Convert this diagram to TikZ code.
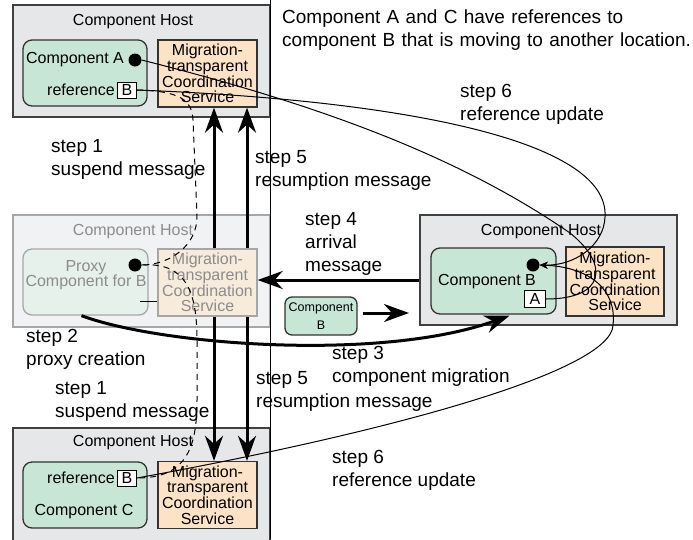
\documentclass[tikz,border=0pt]{standalone}
\usepackage{fontspec}
\setmainfont{Liberation Sans}
\usetikzlibrary{arrows.meta}
\definecolor{hostgray}{RGB}{230,231,232}
\definecolor{compgreen}{RGB}{200,230,213}
\definecolor{mtcsorange}{RGB}{253,227,197}
\definecolor{hostfaded}{RGB}{241,242,243}
\definecolor{compfaded}{RGB}{230,241,236}
\definecolor{mtcsfaded}{RGB}{247,235,220}
\definecolor{fadedtext}{RGB}{140,140,140}
\newcommand{\boxfont}{\fontsize{16}{15.7}\selectfont}
\newcommand{\stepfont}{\fontsize{19}{23}\selectfont}
\newcommand{\smallfont}{\fontsize{12.5}{18}\selectfont}
\tikzset{
  host/.style={draw=black!75, fill=hostgray, line width=1.3pt, minimum width=257pt, minimum height=112pt},
  comp/.style={draw=black!80, fill=compgreen, rounded corners=9pt, line width=1.3pt, minimum width=124pt, minimum height=66pt},
  mtcs/.style={draw=black!80, fill=mtcsorange, line width=1.3pt, minimum width=99pt, minimum height=67pt,
    align=center, inner sep=0pt, font=\boxfont},
  faded/.style={draw=black!35, text=fadedtext},
  refbox/.style={draw, fill=white, line width=1pt, minimum width=19pt, minimum height=16pt, inner sep=0pt, font=\boxfont},
  dot/.style={circle, fill=black, minimum size=13pt, inner sep=0pt},
  txt/.style={inner sep=0pt, font=\boxfont},
  steplabel/.style={anchor=west, align=left, inner sep=0pt, font=\stepfont},
  bigarrow/.style={line width=3pt, -{Stealth[length=25pt,width=18pt,inset=8pt]}},
  refline/.style={line width=1pt},
  refarrow/.style={line width=1pt, -{Stealth[length=8pt,width=7pt]}},
  oldref/.style={line width=1pt, dash pattern=on 6pt off 5pt},
}
\begin{document}
\begin{tikzpicture}[x=1pt, y=-1pt]
\useasboundingbox (0,0) rectangle (693,539);

% host of component A
\node[host] (hostA) at (141.5,61) {};
\node[txt] at (133,22) {Component Host};
\node[comp] (compA) at (85,73) {};
\node[txt] at (75,60) {Component A};
\node[dot] (dotA) at (135,60) {};
\node[txt] at (81,90) {reference};
\node[refbox] (refA) at (127,90) {B};
\node[mtcs] (mtcsA) at (207.5,73.5) {Migration-\\transparent\\Coordination\\Service};

% old host of component B, now the proxy
\node[host, fill=hostfaded, faded] (hostM) at (141.5,271) {};
\node[txt, text=fadedtext] at (133,232) {Component Host};
\node[comp, fill=compfaded, faded, minimum width=125pt] (proxy) at (85.5,282) {};
\node[txt, text=fadedtext, align=center] at (86,275) {Proxy\\Component for B};
\node[dot] (dotP) at (135,265) {};
\node[mtcs, fill=mtcsfaded, faded] (mtcsM) at (207.5,282.5) {Migration-\\transparent\\Coordination\\Service};
\draw[line width=1pt] (140,301) -- (mtcsM.west |- 0,301);

% host of component C
\node[host, minimum height=115pt] (hostC) at (141.5,485.5) {};
\node[txt] at (133,443) {Component Host};
\node[comp] (compC) at (85,495) {};
\node[txt] at (81,478) {reference};
\node[refbox] (refC) at (127,478) {B};
\node[txt] at (84,512) {Component C};
\node[mtcs] (mtcsC) at (207.5,495) {Migration-\\transparent\\Coordination\\Service};

% new host of component B
\node[host, minimum height=110pt] (hostB) at (548.5,270) {};
\node[txt] at (541,232) {Component Host};
\node[comp, minimum width=125pt] (compB) at (493.5,281) {};
\node[txt] at (487,282) {Component B};
\node[dot] (dotB) at (533,265) {};
\node[refbox, minimum width=21pt, minimum height=17pt] (refB) at (535,299) {A};
\node[mtcs, minimum width=98pt, minimum height=69pt] (mtcsB) at (615,281.5) {Migration-\\transparent\\Coordination\\Service};

% component B on the move
\node[comp, minimum width=72pt, minimum height=38pt, rounded corners=7pt, align=center,
  font=\smallfont, inner sep=0pt] (moving) at (321,316) {Component\\B};
\coordinate (movingEnd) at (409,313);

\draw[line width=1pt] (270,0) -- (270,539);

% messages
\draw[bigarrow] ([xshift=6.5pt]mtcsM.north) -- ([xshift=6.5pt]mtcsA.south);
\draw[bigarrow] ([xshift=39.5pt]mtcsM.north) -- ([xshift=39.5pt]mtcsA.south);
\draw[bigarrow] ([xshift=6.5pt]mtcsM.south) -- ([xshift=6.5pt]mtcsC.north);
\draw[bigarrow] ([xshift=39.5pt]mtcsM.south) -- ([xshift=39.5pt]mtcsC.north);
\draw[bigarrow] (hostB.west |- 0,280) -- (mtcsM.east |- 0,280);
\draw[bigarrow] ([xshift=5pt]moving.east |- 0,313) -- (movingEnd);
\draw[bigarrow] ([xshift=-4pt]proxy.south) .. controls (160,345) and (380,362) .. ([xshift=16pt,yshift=-1pt]compB.south);

% references through the proxy
\draw[oldref] (refA.east) .. controls (180,91) and (192,100) .. (193,120) -- (197,215)
  .. controls (198,245) and (170,265) .. (dotP.east);
\draw[oldref] (dotP.east) .. controls (185,262) and (197,290) .. (197,340) -- (197,400)
  .. controls (197,450) and (185,478) .. (refC.east);

% updated references
\draw[refarrow] (refA.east) .. controls (400,100) and (610,140) .. (605,217)
  .. controls (604,245) and (575,266) .. (dotB.east);
\draw[refarrow] (refC.east) .. controls (400,430) and (612,370) .. (613,325)
  .. controls (617,290) and (590,267) .. (dotB.east);
\draw[refline] (refB.east) .. controls (605,299) and (610,265) .. (570,233)
  .. controls (450,150) and (300,100) .. (dotA.east);

% step labels
\node[font=\stepfont, anchor=west, align=left, inner sep=0pt, text width=420pt] at (282,30)
  {Component A and C have references to\\component B that is moving to another location.};
\node[steplabel] at (460,104) {step 6\\reference update};
\node[steplabel] at (51,159.5) {step 1\\suspend message};
\node[steplabel] at (255,170.5) {step 5\\resumption message};
\node[steplabel] at (305,244) {step 4\\arrival\\message};
\node[steplabel] at (26,349.5) {step 2\\proxy creation};
\node[steplabel] at (332,366.5) {step 3\\component migration};
\node[steplabel] at (256,391.5) {step 5\\resumption message};
\node[steplabel] at (55,401) {step 1\\suspend message};
\node[steplabel] at (332,470.5) {step 6\\reference update};
\end{tikzpicture}
\end{document}
